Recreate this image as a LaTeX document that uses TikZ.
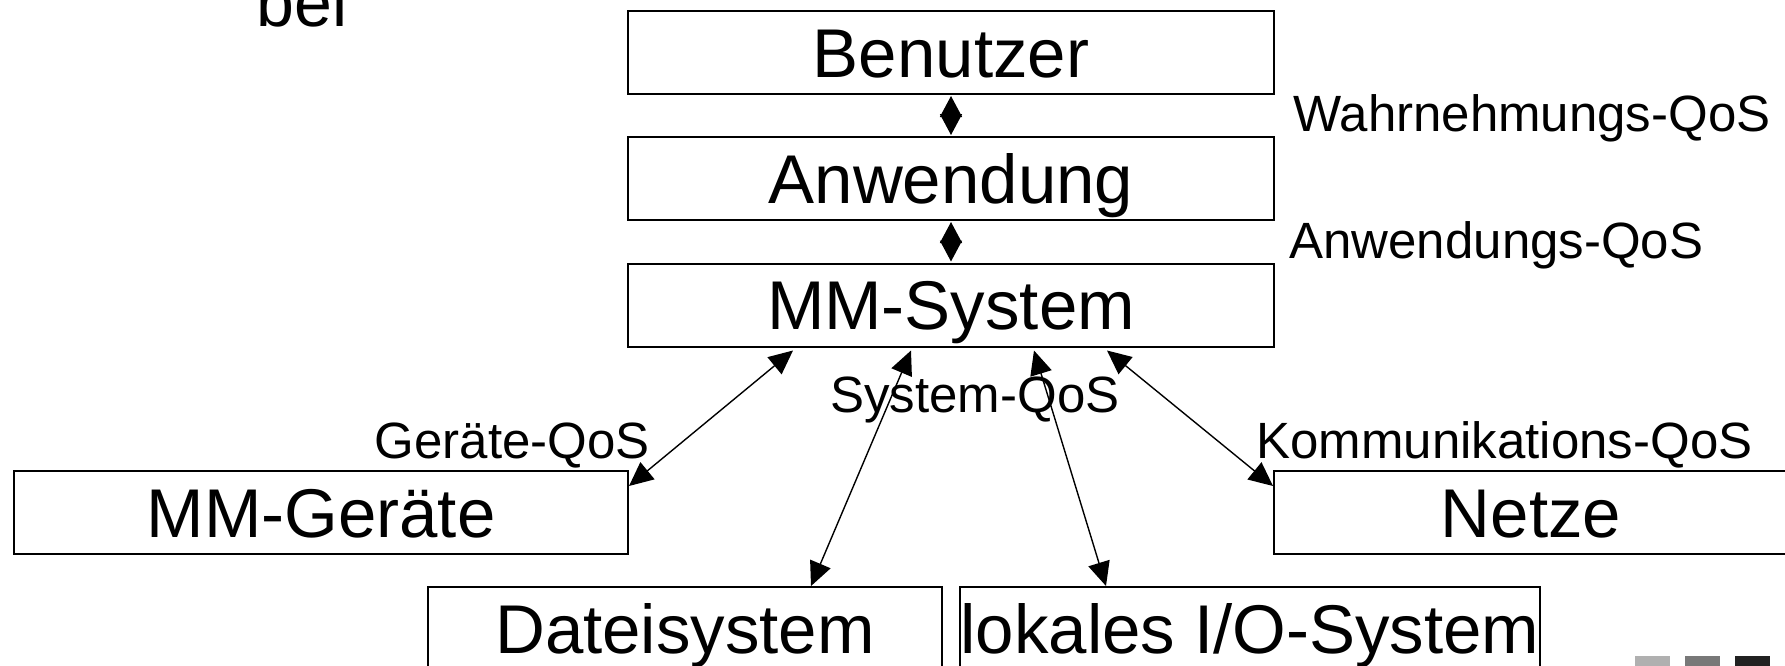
\documentclass[tikz,border=0pt]{standalone}
\usepackage{fontspec}
\setmainfont{Liberation Sans}
\usetikzlibrary{arrows.meta,calc}
\tikzset{
  layer/.style  ={draw,line width=1pt,inner sep=0pt,minimum height=41.5pt,
                  text height=24.7pt,text depth=0pt,font=\fontsize{34.5}{40}\selectfont},
  qos/.style    ={inner sep=0pt,anchor=base west,font=\fontsize{25.5}{30}\selectfont},
  link/.style   ={{Triangle[length=12pt,width=11pt]}-{Triangle[length=12pt,width=11pt]},line width=0.7pt},
  stacklink/.style={{Triangle[length=10.5pt,width=11pt]}-{Triangle[length=10.5pt,width=11pt]},
                  line width=0.7pt,shorten <=0.5pt,shorten >=0.5pt},
  tile/.style   ={draw=none},
}

\begin{document}
\begin{tikzpicture}[x=0.5pt,y=-0.5pt]
  \clip (0,0) rectangle (1785,665);
  % rest of the slide text
  \node[anchor=base west,inner sep=0pt,font=\fontsize{34}{40}\selectfont] (bei) at (256,26) {bei};
  % the layer stack
  \node[layer,minimum width=323pt] (benutzer)  at (951,52.5)  {Benutzer};
  \node[layer,minimum width=323pt] (anwendung) at (951,178.5) {Anwendung};
  \node[layer,minimum width=323pt] (mmsys)     at (951,305)   {MM-System};
  \draw[stacklink] (benutzer) -- (anwendung);
  \draw[stacklink] (anwendung) -- (mmsys);
  \node[qos] (wahrqos) at (1293,131)   {Wahrnehmungs-QoS};
  \node[qos] (anwqos)  at (1289,258)   {Anwendungs-QoS};
  % components below the MM system
  \node[layer,minimum width=307pt] (geraete) at (321,512.5)  {MM-Geräte};
  \node[layer,minimum width=257pt] (netze)   at (1531,512.5) {Netze};
  \node[layer,minimum width=257pt] (datei)   at (685,628.5)  {Dateisystem};
  \node[layer,minimum width=290pt] (lokal)   at (1250,628.5) {lokales I/O-System};
  \draw[link] ([yshift=-8pt]geraete.north east) -- ([xshift=83pt,yshift=-1.5pt]mmsys.south west);
  \draw[link] ([xshift=192pt]datei.north west)  -- ([xshift=142pt,yshift=-1.5pt]mmsys.south west);
  \draw[link] ([xshift=73.5pt]lokal.north west) -- ([xshift=203.5pt,yshift=-1.5pt]mmsys.south west);
  \draw[link] ([yshift=-8pt]netze.north west)   -- ([xshift=240pt,yshift=-1.5pt]mmsys.south west);
  \node[qos,anchor=base east] (geraeteqos) at (650,458) {Geräte-QoS};
  \node[qos] (sysqos)  at (830,412)  {System-QoS};
  \node[qos] (kommqos) at (1256,458) {Kommunikations-QoS};
  % slide corner tiles
  \fill[tile,fill=black!31] (1635,656) rectangle (1670,680);
  \fill[tile,fill=black!53] (1685,656) rectangle (1720,680);
  \fill[tile,fill=black!87] (1735,656) rectangle (1770,680);
\end{tikzpicture}
\end{document}
